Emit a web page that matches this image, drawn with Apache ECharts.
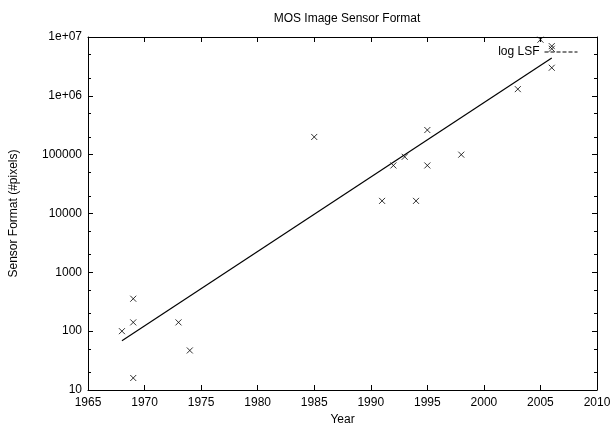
<!DOCTYPE html>
<html>
<head>
<meta charset="utf-8">
<script src="https://cdn.jsdelivr.net/npm/echarts@6/dist/echarts.min.js"></script>
<style>html,body{margin:0;padding:0;background:#fff}#c{width:610px;height:425px}</style>
</head>
<body>
<div id="c"></div>
<script>
// Data
const pointYears  = [1968, 1969, 1969, 1969, 1973, 1974, 1985, 1991, 1992, 1993, 1994, 1995, 1995, 1998, 2003, 2005, 2006, 2006, 2006];
const pointValues = [100, 356, 141, 16, 141, 47, 200000, 16384, 65536, 92000, 16384, 262144, 65536, 100000, 1300000, 9000000, 7000000, 6300000, 3000000];
const fitYears  = [1968, 2006];
const fitValues = [69, 4400000];
const xTicks = [1965, 1970, 1975, 1980, 1985, 1990, 1995, 2000, 2005, 2010];
const yMinorTicks = [20, 50, 200, 500, 2000, 5000, 20000, 50000, 200000, 500000, 2000000, 5000000];

const FONT = 'Liberation Sans, Arial, Helvetica, sans-serif';
const black = '#000';

function yFmt(v) {
  if (v >= 1e6) {
    const e = Math.round(Math.log10(v));
    return '1e+' + (e < 10 ? '0' + e : e);
  }
  return String(Math.round(v));
}

const baseX = {
  type: 'value', min: xTicks[0], max: xTicks[xTicks.length - 1], interval: 5,
  axisLine: { show: true, onZero: false, lineStyle: { color: black, width: 1 } },
  axisTick: { show: true, inside: true, length: 5, lineStyle: { color: black } },
  splitLine: { show: false }
};
const baseY = {
  type: 'log', logBase: 10, min: 10, max: 1e7,
  axisLine: { show: true, onZero: false, lineStyle: { color: black, width: 1 } },
  axisTick: { show: true, inside: true, length: 5, lineStyle: { color: black } },
  splitLine: { show: false }
};

const option = {
  animation: false,
  backgroundColor: '#fff',
  title: {
    text: 'MOS Image Sensor Format',
    left: 342, top: 8, textAlign: 'center',
    textStyle: { fontFamily: FONT, fontSize: 12, fontWeight: 'normal', color: black }
  },
  legend: {
    data: ['log LSF'],
    right: 27, top: 41,
    align: 'right',
    itemWidth: 33, itemHeight: 10,
    textStyle: { fontFamily: FONT, fontSize: 12, color: black },
    lineStyle: { type: 'dashed', width: 1, color: black },
    itemStyle: { opacity: 0 }
  },
  grid: { left: 88, right: 13, top: 37, bottom: 35, outerBoundsMode: 'none', containLabel: false },
  xAxis: [
    Object.assign({}, baseX, {
      position: 'bottom',
      axisLabel: { color: black, fontFamily: FONT, fontSize: 12, margin: 7, formatter: v => String(v) },
      name: 'Year', nameLocation: 'middle', nameGap: 24,
      nameTextStyle: { fontFamily: FONT, fontSize: 12, color: black }
    }),
    Object.assign({}, baseX, { position: 'top', axisLabel: { show: false } })
  ],
  yAxis: [
    Object.assign({}, baseY, {
      position: 'left',
      axisLabel: { color: black, fontFamily: FONT, fontSize: 12, margin: 6, formatter: yFmt },
      name: 'Sensor Format (#pixels)', nameLocation: 'middle', nameGap: 68,
      nameTextStyle: { fontFamily: FONT, fontSize: 12, color: black }
    }),
    Object.assign({}, baseY, { position: 'right', axisLabel: { show: false } }),
    Object.assign({}, baseY, {
      position: 'left', axisLine: { show: false }, axisLabel: { show: false },
      axisTick: { show: true, inside: true, length: 3, lineStyle: { color: black }, customValues: yMinorTicks }
    }),
    Object.assign({}, baseY, {
      position: 'right', axisLine: { show: false }, axisLabel: { show: false },
      axisTick: { show: true, inside: true, length: 3, lineStyle: { color: black }, customValues: yMinorTicks }
    })
  ],
  series: [
    {
      type: 'scatter', name: 'points', xAxisIndex: 0, yAxisIndex: 0,
      symbol: 'path://M0,0L10,10M10,0L0,10', symbolSize: 6,
      itemStyle: { color: 'none', borderColor: black, borderWidth: 1 },
      data: pointYears.map((y, i) => [y, pointValues[i]]),
      z: 3
    },
    {
      type: 'line', name: 'log LSF', xAxisIndex: 0, yAxisIndex: 0,
      symbol: 'none',
      lineStyle: { color: black, width: 1.2 },
      data: fitYears.map((y, i) => [y, fitValues[i]]),
      z: 2
    }
  ]
};

const chart = echarts.init(document.getElementById('c'), null, { renderer: 'canvas' });
chart.setOption(option);
</script>
</body>
</html>
